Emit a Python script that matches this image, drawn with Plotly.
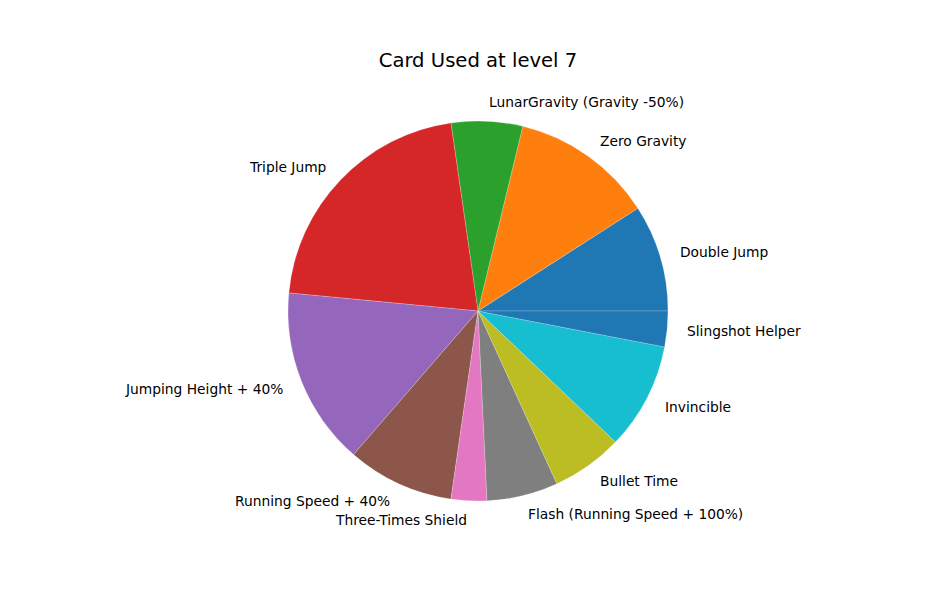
import math
import plotly.graph_objects as go

labels = ["Double Jump", "Zero Gravity", "LunarGravity (Gravity -50%)", "Triple Jump",
          "Jumping Height + 40%", "Running Speed + 40%", "Three-Times Shield",
          "Flash (Running Speed + 100%)", "Bullet Time", "Invincible", "Slingshot Helper"]
counts = [3, 4, 2, 7, 5, 3, 1, 2, 2, 3, 1]
colors = ["#1f77b4", "#ff7f0e", "#2ca02c", "#d62728", "#9467bd", "#8c564b",
          "#e377c2", "#7f7f7f", "#bcbd22", "#17becf", "#1f77b4"]

W, H = 932, 616
OFF = 8  # page body margin
cx_px, cy_px, r_px = 478 - OFF, 311 - OFF, 190

total = sum(counts)
rot = 90 - 360.0 * counts[0] / total

fig = go.Figure(go.Pie(
    labels=labels, values=counts, sort=False, direction="counterclockwise",
    rotation=rot, marker=dict(colors=colors, line=dict(width=0.4, color="rgba(255,255,255,0.5)")),
    textinfo="none", hoverinfo="label+value", showlegend=False,
    domain=dict(x=[(cx_px - r_px) / W, (cx_px + r_px) / W],
                y=[(H - cy_px - r_px) / H, (H - cy_px + r_px) / H]),
))

start = 0.0
annotations = []
for lab, v in zip(labels, counts):
    ang = 360.0 * v / total
    mid = math.radians(start + ang / 2)
    start += ang
    x = cx_px + 1.1 * r_px * math.cos(mid)
    y = cy_px - 1.1 * r_px * math.sin(mid)
    annotations.append(dict(
        x=x / W, y=1 - y / H, xref="paper", yref="paper", text=lab, showarrow=False,
        xanchor="left" if math.cos(mid) > 0 else "right", yanchor="middle", borderpad=0,
        font=dict(family="DejaVu Sans", size=13.8, color="black")))

fig.update_layout(
    width=W, height=H, margin=dict(l=0, r=0, t=0, b=0),
    paper_bgcolor="white", plot_bgcolor="white",
    title=dict(text="Card Used at level 7", x=(478 - OFF) / W, xanchor="center",
               y=1 - (60 - OFF) / H, yanchor="middle",
               font=dict(family="DejaVu Sans", size=19.6, color="black")),
    annotations=annotations,
)
fig.write_html("out.html")
